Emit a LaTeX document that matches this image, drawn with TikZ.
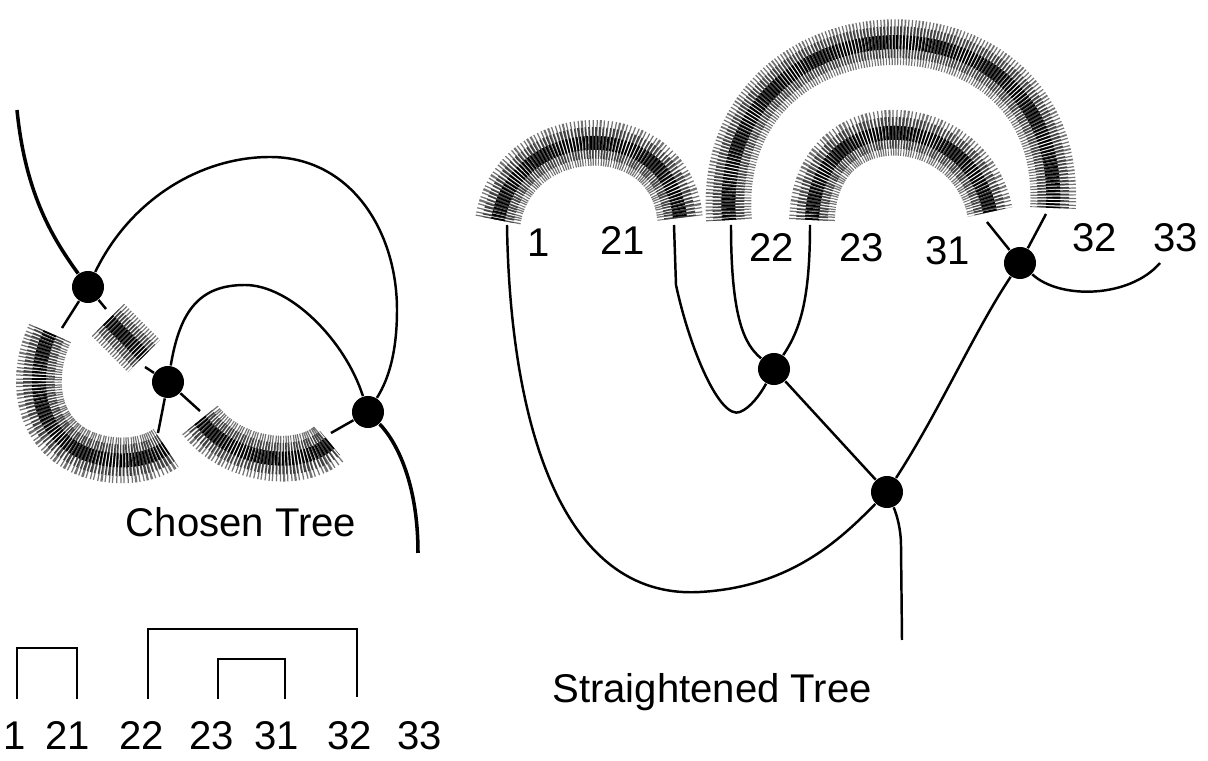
\documentclass[tikz,border=0pt]{standalone}
\usepackage{fontspec}
\setmainfont{Liberation Sans}
\begin{document}
\begin{tikzpicture}[
    x=0.01cm, y=-0.01cm,
    knot/.style={circle, fill=black, inner sep=0pt, minimum size=0.32cm},
    lbl/.style={anchor=base, inner sep=0pt, font=\fontsize{11.4}{13}\selectfont},
    wire/.style={line width=0.7pt, line join=round},
    fuzz/.style={draw=black!55, line width=13pt, line cap=butt, dash pattern=on 0.35pt off 0.55pt,
        postaction={draw=black!75, line width=9pt, line cap=butt, dash pattern=on 0.4pt off 0.5pt, dash phase=0.2pt},
        postaction={draw=black, line width=4pt, line cap=butt, dash pattern=on 0.5pt off 0.45pt}}
]
\useasboundingbox (0,0) rectangle (1208,761);

% Chosen tree
\node[knot] (cA) at (88,287) {};
\node[knot] (cB) at (168,382) {};
\node[knot] (cC) at (368,412) {};
\coordinate (topL) at (17,110);
\coordinate (botL) at (418,553);
\coordinate (lb1) at (62,328);
\coordinate (lb2) at (158,433);
\coordinate (sb1) at (106,309);
\coordinate (sb2) at (145,367);
\coordinate (rb1) at (200,411);
\coordinate (rb2) at (331,433);

\draw[fuzz] (50,333) .. controls (26,385) and (40,445) .. (100,458) .. controls (128,464) and (152,458) .. (166,448);
\draw[fuzz] (108,320) -- (144,356);
\draw[fuzz] (200,420) .. controls (232,462) and (300,470) .. (330,443);

\draw[wire, line width=1pt] (topL) .. controls (25,190) and (50,235) .. (cA);
\draw[wire] (cA) .. controls (130,200) and (200,157) .. (270,157) .. controls (350,157) and (397,230) .. (397,310) .. controls (397,360) and (385,385) .. (cC);
\draw[wire] (cB) .. controls (180,310) and (200,285) .. (245,285) .. controls (290,285) and (345,340) .. (cC);
\draw[wire, line width=1pt] (cC) .. controls (395,440) and (418,480) .. (botL);
\draw[wire] (cA) -- (lb1);
\draw[wire] (cA) -- (sb1);
\draw[wire] (sb2) -- (cB);
\draw[wire] (cB) -- (lb2);
\draw[wire] (cB) -- (rb1);
\draw[wire] (rb2) -- (cC);

\node[lbl] (tChosen) at (241,537) {Chosen Tree};

% Brackets
\node[lbl] (b1) at (15,750) {1};
\node[lbl] (b21) at (68,750) {21};
\node[lbl] (b22) at (142,750) {22};
\node[lbl] (b23) at (212,750) {23};
\node[lbl] (b31) at (277,750) {31};
\node[lbl] (b32) at (350,750) {32};
\node[lbl] (b33) at (420,750) {33};
\draw[wire, line join=miter] (17,699) |- (77,648) -- (77,699);
\draw[wire, line join=miter] (148,699) |- (357,629) -- (357,697);
\draw[wire, line join=miter] (218,699) |- (285,659) -- (285,699);

% Straightened tree
\node[knot] (sD) at (1020,263) {};
\node[knot] (sE) at (774,369) {};
\node[knot] (sF) at (887,492) {};
\coordinate (e1) at (507,225);
\coordinate (e21) at (674,225);
\coordinate (e22) at (731,225);
\coordinate (e23) at (810,225);
\coordinate (e31) at (987,222);
\coordinate (e32) at (1046,214);
\coordinate (e33) at (1160,263);
\coordinate (root) at (902,640);

\draw[fuzz] (498,220) .. controls (515,120) and (670,115) .. (680,218);
\draw[fuzz] (729,220) .. controls (712,-10) and (1065,-20) .. (1053,208);
\draw[fuzz] (812,220) .. controls (815,100) and (970,110) .. (990,212);

\draw[wire] (e1) .. controls (510,420) and (560,600) .. (700,592) .. controls (790,587) and (840,540) .. (sF);
\draw[wire] (sF) .. controls (897,515) and (901,530) .. (901,545) -- (root);
\draw[wire] (sE) -- (sF);
\draw[wire] (sF) .. controls (940,410) and (975,330) .. (sD);
\draw[wire] (e22) .. controls (731,320) and (745,345) .. (sE);
\draw[wire] (e23) .. controls (810,300) and (800,330) .. (sE);
\draw[wire] (e21) -- (676,285) .. controls (690,350) and (720,420) .. (740,412) .. controls (750,408) and (760,395) .. (sE);
\draw[wire] (e31) -- (sD);
\draw[wire] (e32) -- (sD);
\draw[wire] (sD) .. controls (1060,300) and (1130,298) .. (e33);

\node[lbl] (l1) at (539,257) {1};
\node[lbl] (l21) at (623,255) {21};
\node[lbl] (l22) at (772,262) {22};
\node[lbl] (l23) at (862,262) {23};
\node[lbl] (l31) at (948,265) {31};
\node[lbl] (l32) at (1095,252) {32};
\node[lbl] (l33) at (1176,252) {33};

\node[lbl] (tStraight) at (712,703) {Straightened Tree};

\end{tikzpicture}
\end{document}
